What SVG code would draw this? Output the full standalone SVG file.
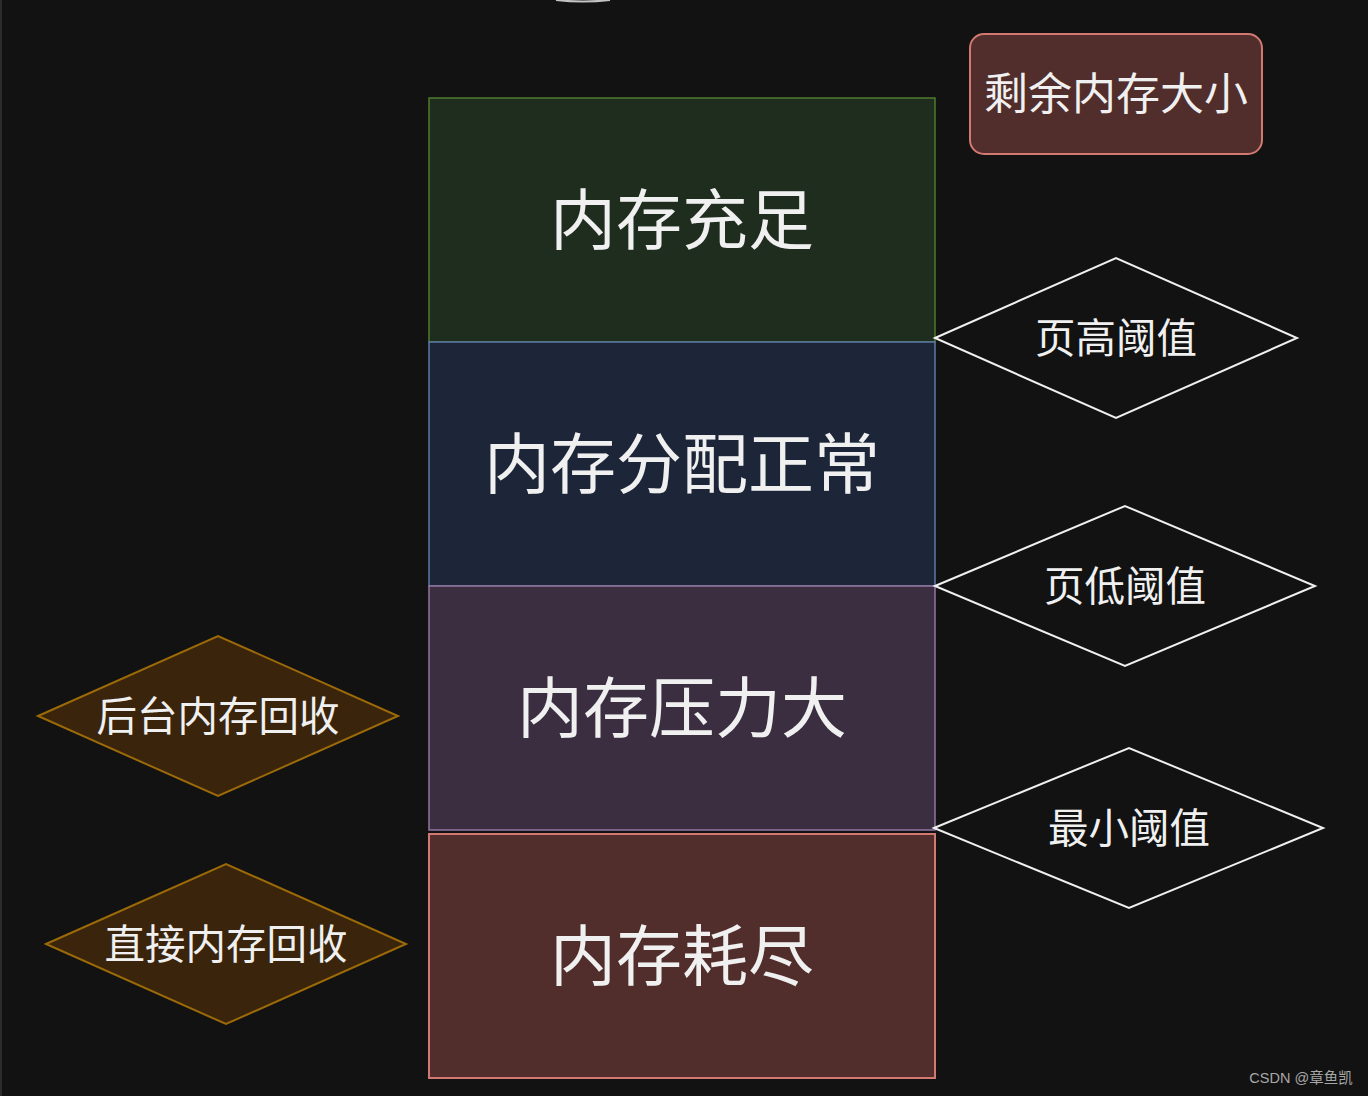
<svg xmlns="http://www.w3.org/2000/svg" width="1368" height="1096" viewBox="0 0 1368 1096">
<style>
text{font-family:"Noto Sans CJK SC","Noto Sans",sans-serif;fill:#f0f0f0;text-anchor:middle;dominant-baseline:central}
.big{font-size:66px}
.mid{font-size:40.5px}
.lbl{font-size:44px}
.dw{fill:#121212;stroke:#f0f0f0;stroke-width:2}
.dy{fill:#3a240c;stroke:#9c6a08;stroke-width:2}
</style>
<rect x="0" y="0" width="1368" height="1096" fill="#121212"/>
<rect x="0" y="0" width="2" height="1096" fill="#2a2a2f"/>
<path d="M556 0 Q583 3 610 0" fill="none" stroke="#f0f0f0" stroke-width="2" opacity="0.8"/>
<g id="connectors"/>
<g id="node-sufficient">
<rect x="429" y="98" width="506" height="244" fill="#1f2d1e" stroke="#4f7b2c" stroke-width="1.5"/>
<text class="big" x="682" y="215">内存充足</text>
</g>
<g id="node-normal">
<rect x="429" y="342" width="506" height="244" fill="#1c2638" stroke="#5b7aa5" stroke-width="1.5"/>
<text class="big" x="682" y="459">内存分配正常</text>
</g>
<g id="node-pressure">
<rect x="429" y="586" width="506" height="244" fill="#3a2e40" stroke="#9474a2" stroke-width="1.5"/>
<text class="big" x="682" y="703">内存压力大</text>
</g>
<g id="node-exhausted">
<rect x="429" y="834" width="506" height="244" fill="#512d2c" stroke="#d27a72" stroke-width="2"/>
<text class="big" x="682" y="951">内存耗尽</text>
</g>
<g id="node-free-size">
<rect x="970" y="34" width="292" height="120" rx="14" fill="#512d2c" stroke="#d27a72" stroke-width="2"/>
<text class="lbl" x="1116" y="91">剩余内存大小</text>
</g>
<g id="node-high">
<polygon class="dw" points="935,338 1116,258 1297,338 1116,418"/>
<text class="mid" x="1116" y="335">页高阈值</text>
</g>
<g id="node-low">
<polygon class="dw" points="935,586 1125,506 1315,586 1125,666"/>
<text class="mid" x="1125" y="583">页低阈值</text>
</g>
<g id="node-min">
<polygon class="dw" points="934,828 1129,748 1323,828 1129,908"/>
<text class="mid" x="1129" y="825">最小阈值</text>
</g>
<g id="node-kswapd">
<polygon class="dy" points="38,716 218,636 398,716 218,796"/>
<text class="mid" x="218" y="713">后台内存回收</text>
</g>
<g id="node-direct">
<polygon class="dy" points="46,944 226,864 406,944 226,1024"/>
<text class="mid" x="226" y="941">直接内存回收</text>
</g>
<text x="1301" y="1078" style="font-family:'Liberation Sans','Noto Sans CJK SC',sans-serif;font-size:14.5px;fill:#a8a8a8">CSDN @章鱼凯</text>
</svg>
